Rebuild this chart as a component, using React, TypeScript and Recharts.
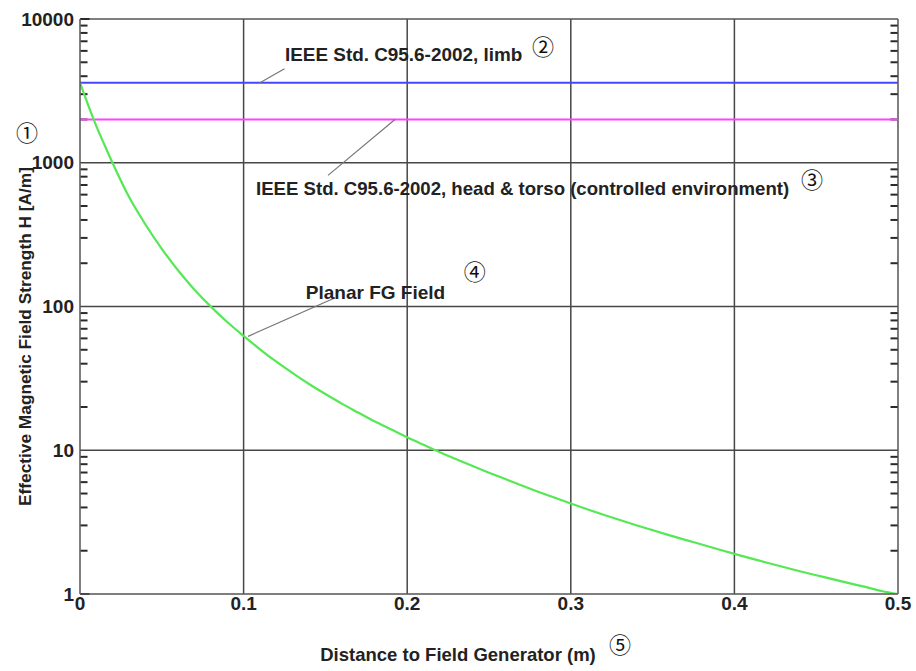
import React from 'react';
import { LineChart, Line, XAxis, YAxis, ReferenceLine, ReferenceDot } from 'recharts';

// ---- data ----
const distance = [0, 0.005, 0.01, 0.015, 0.02, 0.03, 0.04, 0.05, 0.06, 0.07, 0.08, 0.09, 0.1, 0.11, 0.12, 0.13, 0.14, 0.15, 0.16, 0.17, 0.18, 0.19, 0.2, 0.21, 0.22, 0.23, 0.24, 0.25, 0.26, 0.27, 0.28, 0.29, 0.3, 0.31, 0.32, 0.33, 0.34, 0.35, 0.36, 0.37, 0.38, 0.39, 0.4, 0.41, 0.42, 0.43, 0.44, 0.45, 0.46, 0.47, 0.48, 0.49, 0.5];
const planarField = [3600, 2520, 1800, 1330, 991, 577, 372, 252, 178, 131, 99.8, 78, 62.4, 50.4, 41.3, 34.4, 28.9, 24.6, 21.1, 18.3, 15.9, 14.0, 12.3, 10.9, 9.68, 8.65, 7.76, 6.98, 6.3, 5.69, 5.15, 4.68, 4.26, 3.89, 3.56, 3.27, 3.01, 2.78, 2.57, 2.38, 2.21, 2.05, 1.9, 1.77, 1.65, 1.54, 1.44, 1.35, 1.27, 1.19, 1.12, 1.05, 1.0];
const limitX = [0, 0.5];
const limbLimit = 3600; // IEEE limb
const torsoLimit = 2000; // IEEE head & torso
const xTicks = [0, 0.1, 0.2, 0.3, 0.4, 0.5];
const decades = [1, 10, 100, 1000, 10000];
const minorTicks = [2, 3, 4, 5, 6, 7, 8, 9, 20, 30, 40, 50, 60, 70, 80, 90, 200, 300, 400, 500, 600, 700, 800, 900, 2000, 3000, 4000, 5000, 6000, 7000, 8000, 9000];
const xGrid = [0.1, 0.2, 0.3, 0.4];
const yGrid = [10, 100, 1000];

const xLabel = 'Distance to Field Generator (m)';
const yLabel = 'Effective Magnetic Field Strength H [A/m]';
const annLimb = 'IEEE Std. C95.6-2002, limb';
const annTorso = 'IEEE Std. C95.6-2002, head & torso (controlled environment)';
const annPlanar = 'Planar FG Field';

const curveData = distance.map((d, i) => ({ x: d, h: planarField[i] }));
const limbData = limitX.map((d) => ({ x: d, h: limbLimit }));
const torsoData = limitX.map((d) => ({ x: d, h: torsoLimit }));

// annotation anchors (data coords)
const annLimbPos = { x: 0.1253, y: 5714 };
const annTorsoPos = { x: 0.1076, y: 664 };
const annPlanarPos = { x: 0.138, y: 126 };
const leaderLimb = [{ x: 0.110, y: 3600 }, { x: 0.125, y: 4500 }];
const leaderTorso = [{ x: 0.1925, y: 2000 }, { x: 0.1516, y: 817 }];
const leaderPlanar = [{ x: 0.1027, y: 62 }, { x: 0.156, y: 115 }];
const MAJOR_LEN = 0.0058;
const MINOR_LEN = 0.0046;

const FONT = '"Liberation Sans", Arial, sans-serif';
const CIRC = '"Noto Sans CJK JP", "DejaVu Sans", sans-serif';
const TXT = '#222';
const GRID = '#474747';
const AXIS = '#555';
const TICK = '#2a2a2a';

const LeftTick = (props: any) => {
  const { x, y, payload } = props;
  return (
    <text x={x} y={y} dy="0.35em" textAnchor="end" fontFamily={FONT} fontWeight="bold" fontSize={19} fill={TXT}>
      {String(payload.value)}
    </text>
  );
};

const BottomTick = (props: any) => {
  const { x, y, payload } = props;
  return (
    <text x={x} y={y} dy="0.71em" textAnchor="middle" fontFamily={FONT} fontWeight="bold" fontSize={19} fill={TXT}>
      {String(payload.value)}
    </text>
  );
};

const YLabel = (props: any) => {
  const vb = props.viewBox;
  const cx = vb.x + 25;
  const cy = vb.y + vb.height / 2 + 30;
  return (
    <g>
      <text x={cx} y={cy} transform={`rotate(-90 ${cx} ${cy})`} textAnchor="middle" dy="0.35em" fontFamily={FONT} fontWeight="bold" fontSize={17.3} fill={TXT}>
        {yLabel}
      </text>
      <text x={vb.x + 27} y={vb.y + 114} textAnchor="middle" dy="0.35em" fontFamily={CIRC} fontSize={22} fill="#111">①</text>
    </g>
  );
};

const XLabel = (props: any) => {
  const vb = props.viewBox;
  const cx = vb.x + vb.width / 2 - 31;
  const cy = vb.y + 61;
  return (
    <g>
      <text x={cx} y={cy} textAnchor="middle" dy="0.35em" fontFamily={FONT} fontWeight="bold" fontSize={18.5} fill={TXT}>
        {xLabel}
      </text>
      <text x={cx + 162} y={cy - 10} textAnchor="middle" dy="0.35em" fontFamily={CIRC} fontSize={22} fill="#111">⑤</text>
    </g>
  );
};

const annLabel = (text: string, circ: string, dx: number, dy: number, fs: number) => (props: any) => {
  const vb = props.viewBox;
  const x = vb.x + vb.width / 2;
  const y = vb.y + vb.height / 2;
  return (
    <g>
      <text x={x} y={y} dy="0.35em" textAnchor="start" fontFamily={FONT} fontWeight="bold" fontSize={fs} fill={TXT}>
        {text}
      </text>
      <text x={x + dx} y={y + dy} dy="0.35em" textAnchor="middle" fontFamily={CIRC} fontSize={22} fill="#111">
        {circ}
      </text>
    </g>
  );
};

export default function App() {
  return (
    <div style={{ position: 'absolute', left: 0, top: 0, background: '#fff' }}>
      <LineChart width={916} height={671} margin={{ top: 19, right: 18, bottom: 47, left: 0 }}>
        <XAxis
          dataKey="x"
          type="number"
          domain={[0, 0.5]}
          ticks={xTicks}
          allowDataOverflow
          height={30}
          tickLine={false}
          tickSize={0}
          tickMargin={3}
          tick={<BottomTick />}
          axisLine={{ stroke: AXIS, strokeWidth: 1.5 }}
          label={<XLabel />}
        />
        <YAxis
          yAxisId="left"
          orientation="left"
          scale="log"
          type="number"
          domain={[1, 10000]}
          ticks={decades}
          interval={0}
          allowDataOverflow
          width={80}
          tickLine={false}
          tickSize={0}
          tickMargin={6}
          tick={<LeftTick />}
          axisLine={{ stroke: AXIS, strokeWidth: 1.5 }}
          label={<YLabel />}
        />
        {xGrid.map((v) => (
          <ReferenceLine key={'gx' + v} yAxisId="left" x={v} stroke={GRID} strokeWidth={1.5} />
        ))}
        {yGrid.map((v) => (
          <ReferenceLine key={'gy' + v} yAxisId="left" y={v} stroke={GRID} strokeWidth={1.5} />
        ))}
        <ReferenceLine yAxisId="left" y={10000} stroke={AXIS} strokeWidth={1.5} />
        <ReferenceLine yAxisId="left" x={0.5} stroke={AXIS} strokeWidth={1.5} />

        {/* inward minor / major ticks on the left and right frame */}
        {minorTicks.map((v) => (
          <ReferenceLine key={'nl' + v} yAxisId="left" ifOverflow="visible" segment={[{ x: 0.0002, y: v }, { x: MINOR_LEN, y: v }]} stroke={TICK} strokeWidth={2} />
        ))}
        {minorTicks.map((v) => (
          <ReferenceLine key={'nr' + v} yAxisId="left" ifOverflow="visible" segment={[{ x: 0.5 - MINOR_LEN, y: v }, { x: 0.4998, y: v }]} stroke={TICK} strokeWidth={2} />
        ))}
        {[1, 10000].map((v) => (
          <ReferenceLine key={'ml' + v} yAxisId="left" ifOverflow="visible" segment={[{ x: 0.0002, y: v }, { x: MAJOR_LEN, y: v }]} stroke={TICK} strokeWidth={2} />
        ))}

        <Line yAxisId="left" data={limbData} dataKey="h" stroke="#4646ff" strokeWidth={2} dot={false} isAnimationActive={false} />
        <Line yAxisId="left" data={torsoData} dataKey="h" stroke="#ff40ff" strokeWidth={2} dot={false} isAnimationActive={false} />
        <Line yAxisId="left" data={curveData} dataKey="h" type="monotone" stroke="#55e855" strokeWidth={2.2} dot={false} isAnimationActive={false} />

        <ReferenceLine yAxisId="left" segment={leaderLimb} stroke="#777" strokeWidth={1.2} />
        <ReferenceLine yAxisId="left" segment={leaderTorso} stroke="#777" strokeWidth={1.2} />
        <ReferenceLine yAxisId="left" segment={leaderPlanar} stroke="#777" strokeWidth={1.2} />

        <ReferenceDot yAxisId="left" x={annLimbPos.x} y={annLimbPos.y} r={1} fill="none" stroke="none" label={annLabel(annLimb, '②', 258, -7, 18.9)} />
        <ReferenceDot yAxisId="left" x={annTorsoPos.x} y={annTorsoPos.y} r={1} fill="none" stroke="none" label={annLabel(annTorso, '③', 556, -8, 18.6)} />
        <ReferenceDot yAxisId="left" x={annPlanarPos.x} y={annPlanarPos.y} r={1} fill="none" stroke="none" label={annLabel(annPlanar, '④', 169, -20, 19)} />
      </LineChart>
    </div>
  );
}
